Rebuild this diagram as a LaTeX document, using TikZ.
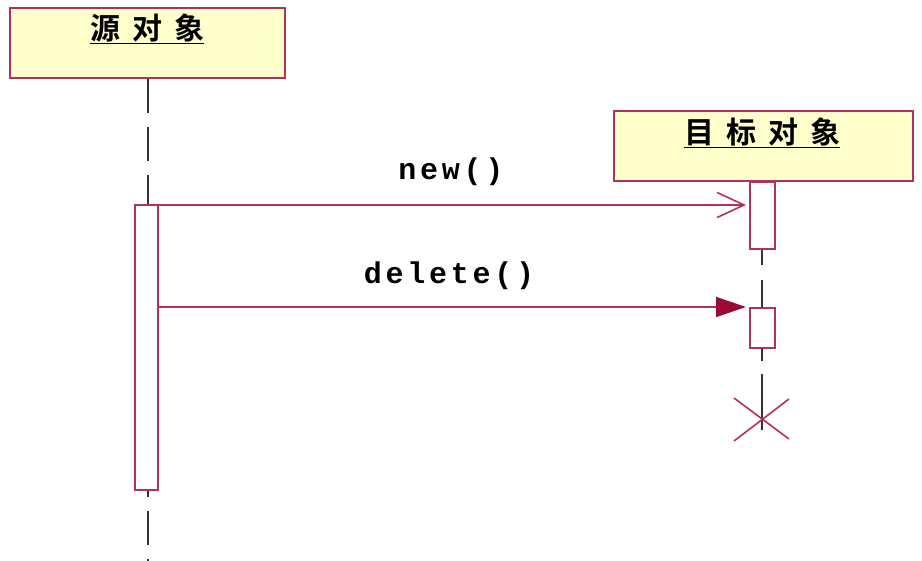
\documentclass[tikz,border=0pt]{standalone}
\usepackage{fontspec}
\newfontfamily\cjk{Noto Sans CJK SC Bold}
\newfontfamily\monob[LetterSpace=12.5]{Liberation Mono Bold}
\usetikzlibrary{arrows.meta}
\definecolor{umlred}{HTML}{B3305C}
\definecolor{umlfill}{HTML}{FFFFCC}
\definecolor{headred}{HTML}{9B0A35}
\definecolor{lifegray}{HTML}{333333}
\newcommand{\cg}{\hspace{12pt}}
\tikzset{
  objbox/.style={draw=umlred, fill=umlfill, line width=1.8pt, inner sep=0pt, anchor=north west},
  objtext/.style={font=\cjk\fontsize{30}{32}\selectfont, text=black, inner sep=0pt},
  actbox/.style={draw=umlred, fill=white, line width=1.8pt, inner sep=0pt, anchor=north west},
  lifeline/.style={draw=lifegray, line width=2pt, dash pattern=on 34pt off 14pt},
  tlifeline/.style={draw=lifegray, line width=2pt, dash pattern=on 84pt off 15pt on 81pt off 13pt on 60pt off 10pt},
  msg/.style={draw=umlred, line width=1.6pt},
  msglabel/.style={font=\monob\fontsize{30}{32}\selectfont, inner sep=0pt},
  crossline/.style={draw=umlred, line width=1.6pt}
}
\begin{document}
\begin{tikzpicture}[x=1pt,y=-1pt]
\useasboundingbox (0,0) rectangle (922,561);
% lifelines
\coordinate (sl1) at (148,79);
\coordinate (sl2) at (148,561);
\coordinate (tl1) at (762,181);
\coordinate (tl2) at (762,430);
\draw[lifeline] (sl1) -- (sl2);
\draw[tlifeline] (tl1) -- (tl2);
% object boxes
\node[objbox, minimum width=275pt, minimum height=70pt] (src) at (9,7) {};
\node[objtext] (srct) at (147,29) {\underline{源\cg 对\cg 象}};
\node[objbox, minimum width=299pt, minimum height=70pt] (tgt) at (613,110) {};
\node[objtext] (tgtt) at (762,133) {\underline{目\cg 标\cg 对\cg 象}};
% activations
\node[actbox, minimum width=23pt, minimum height=285pt] (sa) at (134,204) {};
\node[actbox, minimum width=25pt, minimum height=67pt] (ta1) at (749,181) {};
\node[actbox, minimum width=25pt, minimum height=40pt] (ta2) at (749,307) {};
% messages
\coordinate (m1s) at (157,205);
\coordinate (m1e) at (746,205);
\coordinate (m2s) at (157,307);
\coordinate (m2e) at (746,307);
\draw[msg, -{Straight Barb[length=27pt, width=25pt, line width=1.6pt]}] (m1s) -- (m1e);
\draw[msg, -{Triangle[length=30pt, width=20pt, fill=headred, color=headred]}] (m2s) -- (m2e);
\node[msglabel] (l1) at (451,172) {new()};
\node[msglabel] (l2) at (449,276) {delete()};
% destruction cross
\coordinate (c1) at (734,398);
\coordinate (c2) at (789,439);
\coordinate (c3) at (789,399);
\coordinate (c4) at (734,441);
\draw[crossline] (c1) -- (c2);
\draw[crossline] (c3) -- (c4);
\end{tikzpicture}
\end{document}
